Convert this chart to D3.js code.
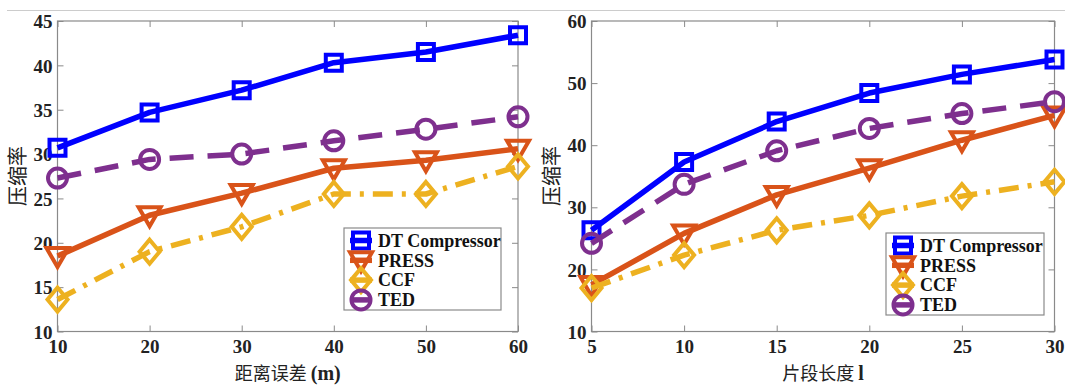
<!DOCTYPE html>
<html><head><meta charset="utf-8">
<script src="https://cdn.jsdelivr.net/npm/d3@7"></script>
<style>body{margin:0;background:#fff}svg{display:block}</style>
</head><body><svg id="c" width="1065" height="385"></svg>
<script>
const seriesNames = ["DT Compressor","PRESS","CCF","TED"];
// left chart
const leftX = [10,20,30,40,50,60];
const leftDT = [30.7,34.7,37.2,40.3,41.5,43.4];
const leftPRESS = [18.5,23.1,25.6,28.4,29.3,30.6];
const leftCCF = [13.6,19.0,21.8,25.5,25.5,28.6];
const leftTED = [27.3,29.4,30.0,31.5,32.8,34.2];
const leftYTicks = [10,15,20,25,30,35,40,45];
// right chart
const rightX = [5,10,15,20,25,30];
const rightDT = [26.3,37.3,43.8,48.4,51.4,53.8];
const rightPRESS = [17.5,25.8,32.0,36.3,40.8,44.8];
const rightCCF = [17.0,22.3,26.3,28.7,31.8,34.1];
const rightTED = [24.2,33.7,39.1,42.7,45.1,47.0];
const rightYTicks = [10,20,30,40,50,60];

const styles = [
  {color:"#0000ff", dash:null, marker:"square"},
  {color:"#d95319", dash:null, marker:"tri"},
  {color:"#edb120", dash:"20,9,4,9", marker:"diamond"},
  {color:"#7e2f8e", dash:"24,14", marker:"circle"}
];

const svg = d3.select("#c");
svg.append("line").attr("x1",7).attr("x2",1065).attr("y1",10.5).attr("y2",10.5)
  .attr("stroke","#ccc").attr("stroke-width",1);

function markerPath(type){
  if(type==="square") return "M-8,-8H8V8H-8Z";
  if(type==="tri") return "M-11,-8H11L0,11Z";
  if(type==="diamond") return "M0,-12L10,0L0,12L-10,0Z";
  return null;
}
function drawMarker(g,type,color,x,y){
  if(type==="circle"){
    g.append("circle").attr("cx",x).attr("cy",y).attr("r",9.5)
      .attr("fill","none").attr("stroke",color).attr("stroke-width",4);
  } else {
    g.append("path").attr("d",markerPath(type)).attr("transform",`translate(${x},${y})`)
      .attr("fill","none").attr("stroke",color).attr("stroke-width",4).attr("stroke-linejoin","miter");
  }
}

function chart(cfg){
  const x = d3.scaleLinear().domain(cfg.xDomain).range(cfg.xRange);
  const y = d3.scaleLinear().domain(cfg.yDomain).range([331.5,21]);
  const g = svg.append("g");
  const [x0,x1] = cfg.xRange;
  // frame
  g.append("rect").attr("x",x0).attr("y",21).attr("width",x1-x0).attr("height",310.5)
    .attr("fill","none").attr("stroke","#8a8a8a").attr("stroke-width",1.2);
  const tickFont = "bold 19px 'Liberation Serif', 'Times New Roman', serif";
  const xa = g.append("g").attr("transform","translate(0,331.5)")
    .call(d3.axisBottom(x).tickValues(cfg.xTicks).tickFormat(d3.format("d")).tickSizeInner(-6).tickSizeOuter(0).tickPadding(8));
  const ya = g.append("g").attr("transform",`translate(${x0},0)`)
    .call(d3.axisLeft(y).tickValues(cfg.yTicks).tickFormat(d3.format("d")).tickSizeInner(-6).tickSizeOuter(0).tickPadding(5));
  const xt = g.append("g").attr("transform","translate(0,21)")
    .call(d3.axisTop(x).tickValues(cfg.xTicks).tickFormat("").tickSizeInner(-6).tickSizeOuter(0));
  const yr = g.append("g").attr("transform",`translate(${x1},0)`)
    .call(d3.axisRight(y).tickValues(cfg.yTicks).tickFormat("").tickSizeInner(-6).tickSizeOuter(0));
  [xa,ya,xt,yr].forEach(a=>{
    a.select(".domain").remove();
    a.selectAll("line").attr("stroke","#8a8a8a");
    a.selectAll("text").style("font",tickFont).attr("fill","#222");
  });
  ya.selectAll("text").attr("dy","0.35em");

  cfg.series.forEach((vals,i)=>{
    const st = styles[i];
    const pts = cfg.xVals.map((d,j)=>[x(d),y(vals[j])]);
    g.append("path").attr("d",d3.line()(pts)).attr("fill","none")
      .attr("stroke",st.color).attr("stroke-width",5.5)
      .attr("stroke-dasharray",st.dash).attr("stroke-linejoin","round");
    pts.forEach(p=>drawMarker(g,st.marker,st.color,p[0],p[1]));
  });
  // x label
  const xl = g.append("text").attr("x",(x0+x1)/2).attr("y",379.5).attr("text-anchor","middle")
    .attr("fill","#222");
  xl.append("tspan").style("font","18px 'Noto Sans CJK SC'").text(cfg.xLabelCN);
  xl.append("tspan").style("font","bold 20px 'Liberation Serif', serif").text(cfg.xLabelEN);
  // y label
  g.append("text").attr("transform",`translate(${cfg.yLabelX},176) rotate(-90)`)
    .attr("text-anchor","middle").attr("fill","#222")
    .style("font","20px 'Noto Sans CJK SC'").text("压缩率");
  // legend
  const L = cfg.legend;
  g.append("rect").attr("x",L.x).attr("y",L.y).attr("width",L.w).attr("height",L.h)
    .attr("fill","#fff").attr("stroke","#8a8a8a").attr("stroke-width",1.2);
  seriesNames.forEach((name,i)=>{
    const st = styles[i];
    const cy = L.y + 12.5 + i*19.8;
    const mx = L.x + 17;
    g.append("line").attr("x1",mx-11).attr("x2",mx+11).attr("y1",cy).attr("y2",cy)
      .attr("stroke",st.color).attr("stroke-width",5.5);
    drawMarker(g,st.marker,st.color,mx,cy);
    g.append("text").attr("x",L.x+34).attr("y",cy).attr("dy","0.35em")
      .style("font","bold 18px 'Liberation Serif', serif").attr("fill","#111").text(name);
  });
}

chart({xDomain:[10,60], xRange:[57.5,518], xTicks:leftX, yDomain:[10,45], yTicks:leftYTicks,
  xVals:leftX, series:[leftDT,leftPRESS,leftCCF,leftTED],
  xLabelCN:"距离误差 ", xLabelEN:"(m)", yLabelX:25,
  legend:{x:344,y:228,w:157,h:82}});
chart({xDomain:[5,30], xRange:[591.5,1054.5], xTicks:rightX, yDomain:[10,60], yTicks:rightYTicks,
  xVals:rightX, series:[rightDT,rightPRESS,rightCCF,rightTED],
  xLabelCN:"片段长度 ", xLabelEN:"l", yLabelX:559,
  legend:{x:886,y:233,w:158,h:82}});
</script></body></html>
